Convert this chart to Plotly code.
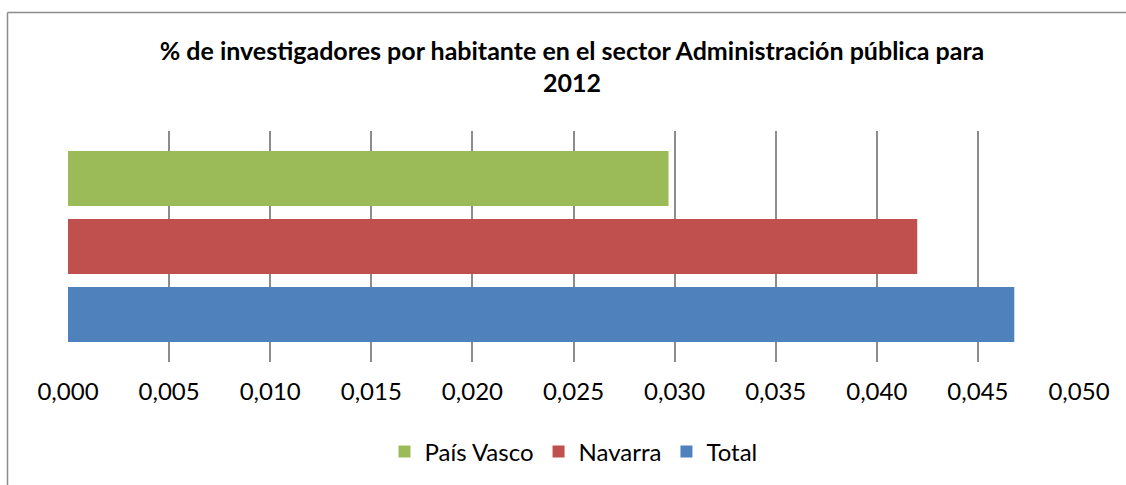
import plotly.graph_objects as go

series = ["Total", "Navarra", "País Vasco"]
values = [0.0468, 0.0420, 0.0297]
colors = ["#4F81BD", "#C0504D", "#9BBB59"]
tick_vals = [0.000, 0.005, 0.010, 0.015, 0.020, 0.025, 0.030, 0.035, 0.040, 0.045, 0.050]
tick_text = [f"{v:.3f}".replace(".", ",") for v in tick_vals]
title = "% de investigadores por habitante en el sector Administración pública para<br>2012"

W, H = 1126, 485
ml, mr, mt, mb = 68, 47, 131, 123
pw, ph = W - ml - mr, H - mt - mb

fig = go.Figure()
for s, v, c in zip(series, values, colors):
    fig.add_trace(go.Bar(name=s, y=[""], x=[v], orientation="h",
                         marker=dict(color=c, line=dict(width=0))))

fig.update_layout(
    width=W, height=H,
    margin=dict(l=ml, r=mr, t=mt, b=mb, autoexpand=False),
    paper_bgcolor="white", plot_bgcolor="white",
    barmode="group", bargap=0.117, bargroupgap=0.19,
    font=dict(family="Lato", size=24, color="#000000"),
    title=dict(text=title, x=0.508, xanchor="center", y=0.877, yanchor="middle",
               font=dict(family="Lato", size=25, color="#000000", weight="bold")),
    xaxis=dict(range=[0, 0.050], tickvals=tick_vals, ticktext=tick_text,
               showgrid=True, gridcolor="#8C8C8C", gridwidth=2,
               zeroline=False, showline=False, ticks="", ticklabelstandoff=13,
               tickfont=dict(size=24), automargin=False),
    yaxis=dict(showticklabels=False, showgrid=False, zeroline=False, showline=False,
               automargin=False),
    legend=dict(orientation="h", x=0.5, xanchor="center", y=-0.292, yanchor="top",
                traceorder="reversed", font=dict(size=24)),
    showlegend=True,
)

# chart frame (only top and left edges are visible in the reference)
frame_x = (7.5 - ml) / pw
frame_y = (H - mb - 12.5) / ph
fig.add_shape(type="line", xref="paper", yref="paper",
              x0=frame_x, x1=(W - ml) / pw, y0=frame_y, y1=frame_y,
              line=dict(color="#8C8C8C", width=1.5), layer="below")
fig.add_shape(type="line", xref="paper", yref="paper",
              x0=frame_x, x1=frame_x, y0=frame_y, y1=-mb / ph,
              line=dict(color="#8C8C8C", width=1.5), layer="below")

fig.write_html("out.html", config={"displayModeBar": False})
